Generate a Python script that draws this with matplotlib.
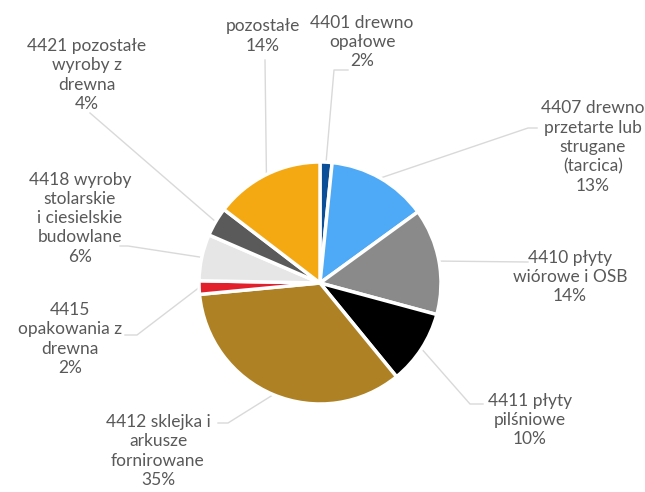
import numpy as np
import matplotlib
matplotlib.use("Agg")
import matplotlib.pyplot as plt

# slice order: clockwise from 12 o'clock
names = ["4401 drewno\nopałowe", "4407 drewno\nprzetarte lub\nstrugane\n(tarcica)",
         "4410 płyty\nwiórowe i OSB", "4411 płyty\npilśniowe",
         "4412 sklejka i\narkusze\nfornirowane", "4415\nopakowania z\ndrewna",
         "4418 wyroby\nstolarskie\ni ciesielskie\nbudowlane",
         "4421 pozostałe\nwyroby z\ndrewna", "pozostałe"]
shares = [1.6, 13.4, 14.2, 9.9, 34.4, 1.8, 6.2, 3.9, 14.6]
pct_labels = ["2%", "13%", "14%", "10%", "35%", "2%", "6%", "4%", "14%"]
colors = ["#0a4f98", "#4eaaf6", "#8a8a8a", "#000000", "#ae8224",
          "#e2202b", "#e6e6e6", "#5a5a5a", "#f4a912"]

W, H = 645, 492
CX, CY, R = 320, 283, 121


def px(x, y):
    # pixel position (from top-left) -> data coords, pie radius = 1
    return (x - CX) / R, (CY - y) / R


# label centre, elbow, end of leader (pixels)
layout = [
    ((362, 42), (334, 70), (348, 70)),
    ((593, 147), (528, 128), (537, 128)),
    ((570, 277), (528, 262), (528, 262)),
    ((530, 420), (470, 404), (483, 404)),
    ((158, 451), (228, 423), (218, 423)),
    ((70, 339), (137, 335), (125, 335)),
    ((80, 218), (128, 246), (120, 246)),
    ((87, 75), (90, 113), (90, 113)),
    ((263, 36), (265, 60), (265, 60)),
]

fig = plt.figure(figsize=(W / 100, H / 100), dpi=100)
ax = fig.add_axes([0, 0, 1, 1])
ax.set_xlim(-CX / R, (W - CX) / R)
ax.set_ylim(-(H - CY) / R, CY / R)
ax.axis("off")

wedges, _ = ax.pie(shares, colors=colors, startangle=90, counterclock=False,
                   radius=1, center=(0, 0), frame=True,
                   wedgeprops=dict(edgecolor="white", linewidth=2.5))
ax.set_xlim(-CX / R, (W - CX) / R)
ax.set_ylim(-(H - CY) / R, CY / R)
ax.axis("off")

for w, name, pct, (lab, elbow, end) in zip(wedges, names, pct_labels, layout):
    mid = np.deg2rad((w.theta1 + w.theta2) / 2)
    x0, y0 = np.cos(mid), np.sin(mid)
    ex, ey = px(*elbow)
    fx, fy = px(*end)
    ax.plot([x0, ex, fx], [y0, ey, fy], color="#d9d9d9", lw=1, zorder=0)
    lx, ly = px(*lab)
    ax.text(lx, ly, name + "\n" + pct, ha="center", va="center",
            fontsize=12.5, color="#595959", family="Lato", linespacing=1.25)

fig.savefig("out.png", dpi=100)
